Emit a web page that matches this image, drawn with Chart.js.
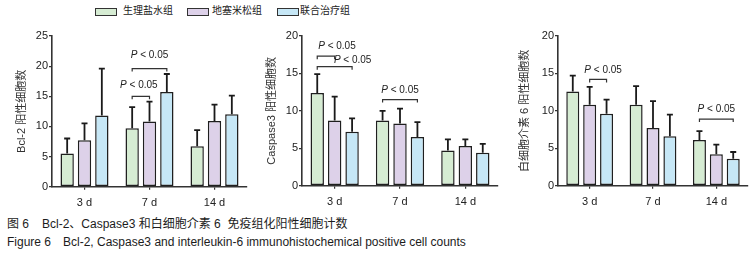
<!DOCTYPE html>
<html lang="zh">
<head>
<meta charset="UTF-8">
<title>Figure 6</title>
<script src="https://cdn.jsdelivr.net/npm/chart.js"></script>
<style>
  body { margin: 0; background: #fff; font-family: "Liberation Sans", "Noto Sans CJK SC", sans-serif; color: #222; }
  #page { position: relative; width: 755px; height: 256px; overflow: hidden; }
  .panel { position: absolute; top: 0; height: 215px; }
  .lg-box { position: absolute; top: 8px; width: 20px; height: 6px; border: 1.3px solid #333; }
  .lg-text { position: absolute; top: 4px; font-size: 10px; line-height: 14px; white-space: nowrap; }
  .cap { position: absolute; font-size: 12px; line-height: 14px; white-space: nowrap; color: #1c1c1c; }
</style>
</head>
<body>
<div id="page">
  <div class="lg-box" style="left:95px;background:#d6ecd3"></div>
  <div class="lg-text" style="left:123px">生理盐水组</div>
  <div class="lg-box" style="left:187px;background:#ddd1e9"></div>
  <div class="lg-text" style="left:212px">地塞米松组</div>
  <div class="lg-box" style="left:277px;background:#c6e7f6"></div>
  <div class="lg-text" style="left:300px">联合治疗组</div>

  <div class="panel" style="left:0;width:250px"><canvas id="bcl2"></canvas></div>
  <div class="panel" style="left:250px;width:252px"><canvas id="casp3"></canvas></div>
  <div class="panel" style="left:502px;width:253px"><canvas id="il6"></canvas></div>

  <div class="cap" style="left:7px;top:217px">图 6</div>
  <div class="cap" style="left:42px;top:217px">Bcl-2、Caspase3 和白细胞介素 6&nbsp; 免疫组化阳性细胞计数</div>
  <div class="cap" style="left:7px;top:235px">Figure 6</div>
  <div class="cap" style="left:63px;top:235px">Bcl-2, Caspase3 and interleukin-6 immunohistochemical positive cell counts</div>
</div>

<script>
// categories and groups
const days = ['3 d', '7 d', '14 d'];
const groups = ['生理盐水组', '地塞米松组', '联合治疗组'];

// Bcl-2 (mean, sd)
const bcl2Saline = [5.5, 9.7, 6.7];
const bcl2Dex = [7.7, 10.8, 10.9];
const bcl2Combo = [11.8, 15.7, 12.0];
const bcl2SalineSd = [2.5, 3.5, 2.7];
const bcl2DexSd = [2.8, 3.3, 2.7];
const bcl2ComboSd = [7.8, 3.0, 3.1];

// Caspase3
const caspSaline = [12.4, 8.7, 4.7];
const caspDex = [8.7, 8.3, 5.3];
const caspCombo = [7.2, 6.5, 4.4];
const caspSalineSd = [2.5, 1.3, 1.5];
const caspDexSd = [3.2, 2.0, 0.9];
const caspComboSd = [1.8, 2.0, 1.2];

// interleukin-6
const il6Saline = [12.6, 10.8, 6.1];
const il6Dex = [10.8, 7.7, 4.2];
const il6Combo = [9.6, 6.6, 3.6];
const il6SalineSd = [2.1, 2.5, 1.2];
const il6DexSd = [2.4, 3.6, 1.3];
const il6ComboSd = [1.9, 2.9, 0.9];

// significance brackets: [day index, from group, to group, height]
const bcl2Brackets = [[1, 0, 1, 15.0], [1, 0, 2, 19.6]];
const caspBrackets = [[0, 0, 1, 17.3], [0, 0, 2, 15.9], [1, 0, 2, 11.5]];
const il6Brackets = [[0, 1, 2, 14.2], [2, 0, 2, 8.9]];

const fills = ['#d6ecd3', '#ddd1e9', '#c6e7f6'];
const fontFamily = '"Liberation Sans", "Noto Sans CJK SC", sans-serif';

// draws sd whiskers and P brackets
const annotate = {
  id: 'annotate',
  afterDatasetsDraw(chart, args, opts) {
    const ctx = chart.ctx;
    const y = chart.scales.y;
    ctx.save();
    ctx.strokeStyle = '#1a1a1a';
    ctx.lineWidth = 1.8;
    chart.data.datasets.forEach((ds, i) => {
      chart.getDatasetMeta(i).data.forEach((bar, j) => {
        const top = y.getPixelForValue(ds.data[j] + ds.sd[j]);
        ctx.beginPath();
        ctx.moveTo(bar.x, bar.y);
        ctx.lineTo(bar.x, top);
        ctx.moveTo(bar.x - 3, top);
        ctx.lineTo(bar.x + 3, top);
        ctx.stroke();
      });
    });

    ctx.strokeStyle = '#333';
    ctx.lineWidth = 1.2;
    ctx.fillStyle = '#222';
    ctx.textBaseline = 'middle';
    opts.brackets.forEach((b, k) => {
      const [day, from, to, val] = b;
      const x1 = chart.getDatasetMeta(from).data[day].x;
      const x2 = chart.getDatasetMeta(to).data[day].x;
      const yy = y.getPixelForValue(val);
      ctx.beginPath();
      ctx.moveTo(x1, yy + 3);
      ctx.lineTo(x1, yy);
      ctx.lineTo(x2, yy);
      ctx.lineTo(x2, yy + 3);
      ctx.stroke();

      const [dx, dy] = opts.labelShift[k];
      ctx.font = 'italic 10px ' + fontFamily;
      const pW = ctx.measureText('P').width;
      ctx.font = '10px ' + fontFamily;
      const restW = ctx.measureText(' < 0.05').width;
      const start = (x1 + x2) / 2 + dx - (pW + restW) / 2;
      ctx.textAlign = 'left';
      ctx.font = 'italic 10px ' + fontFamily;
      ctx.fillText('P', start, yy + dy);
      ctx.font = '10px ' + fontFamily;
      ctx.fillText(' < 0.05', start + pW, yy + dy);
    });
    ctx.restore();
  }
};

function makeChart(id, series, sds, yMax, title, yWidth, titlePad, padRight, padBottom, brackets, labelShift) {
  return new Chart(document.getElementById(id), {
    type: 'bar',
    data: {
      labels: days,
      datasets: series.map((s, i) => ({
        label: groups[i],
        data: s,
        sd: sds[i],
        backgroundColor: fills[i],
        borderColor: '#1f1f1f',
        borderWidth: 1.5,
        borderSkipped: false,
        categoryPercentage: 0.8,
        barPercentage: 0.77
      }))
    },
    options: {
      responsive: false,
      animation: false,
      layout: { padding: { top: 36, left: 0, right: padRight, bottom: padBottom } },
      plugins: {
        legend: { display: false },
        tooltip: { enabled: false },
        annotate: { brackets: brackets, labelShift: labelShift }
      },
      scales: {
        x: {
          grid: { display: true, drawOnChartArea: false, offset: false, tickLength: 3, color: '#333', lineWidth: 1.2 },
          border: { display: true, color: '#333', width: 1.6 },
          ticks: { color: '#222', padding: 7, font: { family: fontFamily, size: 11 } },
          afterFit(scale) { scale.height = 24; }
        },
        y: {
          min: 0,
          max: yMax,
          ticks: { stepSize: 5, color: '#222', padding: 1, font: { family: fontFamily, size: 11 } },
          grid: { display: true, drawOnChartArea: false, tickLength: 3, color: '#333', lineWidth: 1.2 },
          border: { display: true, color: '#333', width: 1.6 },
          title: { display: true, text: title, color: '#333', padding: { top: titlePad, bottom: 0 }, font: { family: fontFamily, size: 11 } },
          afterFit(scale) { scale.width = yWidth; }
        }
      }
    },
    plugins: [annotate]
  });
}

function sizeCanvas(id, w, h) {
  const c = document.getElementById(id);
  c.width = w; c.height = h;
  c.style.width = w + 'px'; c.style.height = h + 'px';
}
sizeCanvas('bcl2', 250, 215);
sizeCanvas('casp3', 252, 215);
sizeCanvas('il6', 253, 215);

makeChart('bcl2', [bcl2Saline, bcl2Dex, bcl2Combo], [bcl2SalineSd, bcl2DexSd, bcl2ComboSd],
  25, 'Bcl-2 阳性细胞数', 52, 15.4, 3, 4.3, bcl2Brackets, [[-2, -11], [0, -13]]);
makeChart('casp3', [caspSaline, caspDex, caspCombo], [caspSalineSd, caspDexSd, caspComboSd],
  20, 'Caspase3 阳性细胞数', 52, 15, 4, 5.3, caspBrackets, [[11, -10], [18, -6], [0, -9]]);
makeChart('il6', [il6Saline, il6Dex, il6Combo], [il6SalineSd, il6DexSd, il6ComboSd],
  20, '白细胞介素 6 阳性细胞数', 56, 16.4, 7, 5.3, il6Brackets, [[5, -9], [0, -10]]);
</script>
</body>
</html>
